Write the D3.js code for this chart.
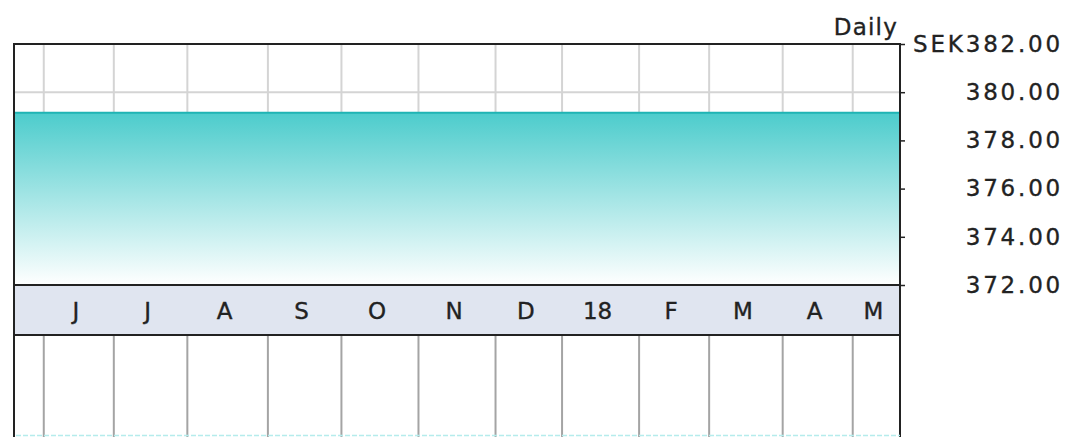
<!DOCTYPE html>
<html>
<head>
<meta charset="utf-8">
<script src="https://cdn.jsdelivr.net/npm/d3@7"></script>
<style>
  html, body { margin: 0; padding: 0; background: #fff; }
  svg { display: block; }
  text { font-family: "DejaVu Sans", Verdana, sans-serif; fill: #222; stroke: #222; stroke-width: 0.35px; }
</style>
</head>
<body>
<svg id="chart" width="1065" height="437"></svg>
<script>
// ---- data ----
// trading days in each month segment shown (first/last are partial)
const monthDays   = [8.5, 20, 21, 23, 21, 22, 22, 19, 22, 20, 21, 20, 13.5];
const monthLabels = ["", "J", "J", "A", "S", "O", "N", "D", "18", "F", "M", "A", "M"];
const yTicks      = [372, 374, 376, 378, 380, 382];
const priceDomain = [372, 382];
const priceValues = [379.15, 379.15];   // flat close over the period (start, end)
const currency    = "SEK";
const periodLabel = "Daily";

// ---- layout ----
const pLeft = 14, pRight = 900, pTop = 44, plotBottom = 285, bandBottom = 335, H = 437;

const svg = d3.select("#chart");
const starts = [0];
monthDays.forEach((d, i) => starts.push(starts[i] + d));
const total = starts[starts.length - 1];

const x = d3.scaleLinear().domain([0, total]).range([pLeft, pRight]);
const y = d3.scaleLinear().domain(priceDomain).range([plotBottom, pTop]);

// gradient
const defs = svg.append("defs");
const grad = defs.append("linearGradient").attr("id", "areaGrad")
  .attr("x1", 0).attr("y1", 0).attr("x2", 0).attr("y2", 1);
grad.append("stop").attr("offset", "0%").attr("stop-color", "#4ccccc");
grad.append("stop").attr("offset", "100%").attr("stop-color", "#ffffff");

// band background
svg.append("rect").attr("x", pLeft).attr("y", plotBottom).attr("width", pRight - pLeft)
  .attr("height", bandBottom - plotBottom).attr("fill", "#e0e5f0");

// month gridlines (upper panel: light; lower panel: darker)
const bounds = starts.slice(1, starts.length - 1);
svg.append("g").selectAll("line").data(bounds).join("line")
  .attr("x1", d => x(d)).attr("x2", d => x(d))
  .attr("y1", pTop).attr("y2", plotBottom)
  .attr("stroke", "#d4d4d4").attr("stroke-width", 2);
svg.append("g").selectAll("line").data(bounds).join("line")
  .attr("x1", d => x(d)).attr("x2", d => x(d))
  .attr("y1", bandBottom).attr("y2", H)
  .attr("stroke", "#a4a4a4").attr("stroke-width", 2);

// horizontal gridlines
svg.append("g").selectAll("line").data(yTicks).join("line")
  .attr("x1", pLeft).attr("x2", pRight)
  .attr("y1", d => y(d)).attr("y2", d => y(d))
  .attr("stroke", "#d4d4d4").attr("stroke-width", 2);

// price area
const pts = priceValues.map((v, i) => ({ t: i === 0 ? 0 : total, v }));
svg.append("path").datum(pts)
  .attr("d", d3.area().x(d => x(d.t)).y0(plotBottom).y1(d => y(d.v)))
  .attr("fill", "url(#areaGrad)");
svg.append("path").datum(pts)
  .attr("d", d3.line().x(d => x(d.t)).y(d => y(d.v)))
  .attr("fill", "none").attr("stroke", "#1fb4b4").attr("stroke-width", 2);

// month labels
svg.append("g").selectAll("text").data(monthLabels.map((l, i) => ({ l, i })).filter(d => d.l))
  .join("text")
  .attr("x", d => x((starts[d.i] + starts[d.i + 1]) / 2) - 3)
  .attr("y", (plotBottom + bandBottom) / 2 + 1)
  .attr("dy", "0.36em")
  .attr("text-anchor", "middle")
  .attr("font-size", 23)
  .text(d => d.l);

// frame lines
const frame = svg.append("g").attr("stroke", "#222").attr("stroke-width", 2);
frame.append("line").attr("x1", pLeft).attr("x2", pLeft).attr("y1", pTop - 1).attr("y2", H);
frame.append("line").attr("x1", pRight).attr("x2", pRight).attr("y1", pTop - 1).attr("y2", H);
frame.append("line").attr("x1", pLeft).attr("x2", pRight).attr("y1", pTop).attr("y2", pTop);
frame.append("line").attr("x1", pLeft).attr("x2", pRight).attr("y1", plotBottom).attr("y2", plotBottom);
frame.append("line").attr("x1", pLeft).attr("x2", pRight).attr("y1", bandBottom).attr("y2", bandBottom);

// dashed cyan at the very bottom
svg.append("line").attr("x1", pLeft + 2).attr("x2", pRight).attr("y1", H - 1.5).attr("y2", H - 1.5)
  .attr("stroke", "#b5ecec").attr("stroke-width", 1.5).attr("stroke-dasharray", "5,2");

// right axis
const axis = d3.axisRight(y).tickValues(yTicks).tickSize(5)
  .tickFormat(d => (d === yTicks[yTicks.length - 1] ? currency : "") + d.toFixed(2));
const ag = svg.append("g").attr("transform", `translate(${pRight},0)`).call(axis);
ag.select(".domain").remove();
ag.selectAll(".tick line").attr("stroke", "#222").attr("stroke-width", 1.5);
ag.selectAll(".tick text")
  .attr("x", 1063 - pRight).attr("text-anchor", "end")
  .attr("font-size", 23).attr("letter-spacing", 2.8)
  .attr("font-family", "DejaVu Sans, Verdana, sans-serif")
  .attr("fill", "#222").attr("stroke", "#222").attr("stroke-width", 0.35);

// period label
svg.append("text").attr("x", 898).attr("y", 35).attr("text-anchor", "end")
  .attr("font-size", 23).attr("letter-spacing", 1.2).text(periodLabel);
</script>
</body>
</html>
